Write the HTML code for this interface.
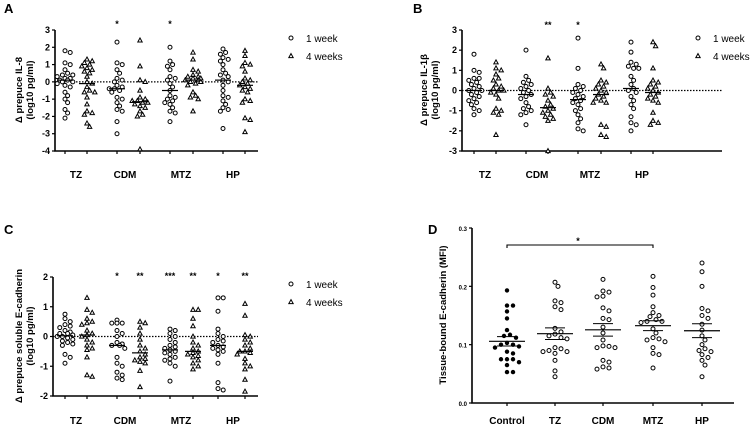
<!DOCTYPE html>
<html><head><meta charset="utf-8">
<style>
html,body{margin:0;padding:0;background:#fff;}
svg{display:block;font-family:"Liberation Sans",Arial,sans-serif;}
</style></head>
<body>
<svg id="fig" width="750" height="425" viewBox="0 0 750 425" xmlns="http://www.w3.org/2000/svg"></svg>
<script>
// ---------- DATA ----------
const groupsABC = ["TZ","CDM","MTZ","HP"];
const ticksA = [3,2,1,0,-1,-2,-3,-4];
const ticksB = [3,2,1,0,-1,-2,-3];
const ticksC = [2,1,0,-1,-2];
const ticksD = [0.3,0.2,0.1,0.0];
const tickLabelsD = ["0.3","0.2","0.1","0.0"];
const groupsD = ["Control","TZ","CDM","MTZ","HP"];

const a_tz1=[1.8,1.7,1.1,1.0,0.7,0.5,0.4,0.4,0.3,0.2,0.2,0.1,0.1,0,0,-0.1,-0.2,-0.3,-0.6,-0.8,-1.0,-1.2,-1.6,-1.8,-2.1];
const a_tz4=[1.3,1.2,1.1,1.0,0.9,0.8,0.7,0.6,0.5,0.3,0,-0.1,-0.3,-0.5,-0.6,-0.6,-0.9,-1.3,-1.7,-1.8,-1.9,-2.4,-2.6];
const a_cdm1=[2.3,1.1,1.0,0.7,0.5,0.2,0.1,0,-0.2,-0.3,-0.4,-0.4,-0.5,-0.6,-0.9,-1.0,-1.2,-1.4,-1.6,-1.7,-2.3,-3.0];
const a_cdm4=[2.4,0.9,0.1,0,-0.5,-0.9,-1.0,-1.1,-1.1,-1.2,-1.2,-1.3,-1.4,-1.5,-1.7,-1.9,-2.0,-3.9];
const a_mtz1=[2.0,1.2,1.0,0.9,0.7,0.3,0.2,0.1,-0.1,-0.3,-0.5,-0.8,-0.9,-1.0,-1.1,-1.2,-1.3,-1.5,-1.7,-1.8,-2.3];
const a_mtz4=[1.7,1.3,0.7,0.6,0.4,0.3,0.3,0.2,0.2,0.1,0.1,0,0,-0.1,-0.2,-0.6,-0.8,-0.9,-1.0,-1.7];
const a_hp1=[1.9,1.7,1.6,1.4,1.3,1.2,1.0,0.7,0.5,0.4,0.3,0.1,0,-0.2,-0.5,-0.8,-0.9,-1.1,-1.3,-1.5,-1.6,-1.7,-2.7];
const a_hp4=[1.8,1.5,1.1,1.0,0.9,0.6,0.2,0.1,0,-0.1,-0.2,-0.3,-0.4,-0.5,-0.6,-1.0,-1.1,-1.2,-2.1,-2.2,-2.9];

const b_tz1=[1.8,1.0,0.9,0.6,0.6,0.5,0.4,0.3,0.2,0.1,0,0,-0.1,-0.2,-0.3,-0.4,-0.5,-0.6,-0.7,-0.9,-1.0,-1.2];
const b_tz4=[1.4,1.1,1.0,0.8,0.6,0.5,0.3,0.2,0.1,0,0,-0.1,-0.2,-0.4,-0.9,-1.0,-1.1,-1.2,-2.2];
const b_cdm1=[2.0,0.7,0.5,0.4,0.3,0.2,0.1,0,-0.1,-0.2,-0.3,-0.4,-0.6,-0.8,-0.9,-1.0,-1.1,-1.2,-1.7];
const b_cdm4=[1.6,0.1,-0.1,-0.2,-0.3,-0.5,-0.7,-0.8,-0.9,-1.0,-1.1,-1.2,-1.3,-1.4,-1.5,-3.0];
const b_mtz1=[2.6,1.1,0.3,0.2,0.1,0,-0.1,-0.2,-0.3,-0.4,-0.5,-0.6,-0.7,-0.9,-1.0,-1.2,-1.4,-1.6,-1.9,-2.0];
const b_mtz4=[1.3,1.1,0.5,0.4,0.3,0.2,0.1,0,-0.1,-0.2,-0.3,-0.4,-0.5,-0.6,-0.6,-1.7,-1.8,-2.2,-2.3];
const b_hp1=[2.4,1.9,1.4,1.3,1.2,1.1,1.1,0.7,0.5,0.3,0.1,0,-0.1,-0.3,-0.5,-0.7,-0.9,-1.3,-1.6,-1.7,-2.0];
const b_hp4=[2.4,2.2,1.1,0.5,0.4,0.3,0.2,0.1,0,-0.1,-0.2,-0.3,-0.4,-0.5,-0.6,-1.1,-1.5,-1.6,-1.7];

const c_tz1=[0.75,0.6,0.5,0.4,0.35,0.3,0.2,0.15,0.1,0.1,0.05,0,0,-0.05,-0.1,-0.15,-0.2,-0.25,-0.3,-0.6,-0.7,-0.9];
const c_tz4=[1.3,0.9,0.8,0.6,0.5,0.45,0.4,0.2,0.1,0.05,0,-0.1,-0.2,-0.3,-0.4,-0.45,-0.7,-1.3,-1.35];
const c_cdm1=[0.55,0.45,0.45,0.45,0.2,0.1,0,-0.2,-0.25,-0.3,-0.3,-0.4,-0.7,-0.9,-1.0,-1.2,-1.3,-1.4,-1.45];
const c_cdm4=[0.5,0.45,0.3,0.1,-0.1,-0.3,-0.4,-0.5,-0.6,-0.7,-0.75,-0.8,-0.85,-0.9,-1.15,-1.7];
const c_mtz1=[0.25,0.2,0.1,0,-0.1,-0.2,-0.3,-0.35,-0.4,-0.45,-0.5,-0.55,-0.6,-0.7,-0.75,-0.8,-0.9,-1.0,-1.5];
const c_mtz4=[0.9,0.9,0.6,0.35,0,-0.2,-0.3,-0.4,-0.5,-0.55,-0.6,-0.65,-0.7,-0.8,-0.9,-1.0,-1.1];
const c_hp1=[1.3,1.3,0.85,0.25,0.1,0,-0.1,-0.15,-0.2,-0.3,-0.35,-0.4,-0.45,-0.5,-0.6,-0.9,-1.55,-1.75,-1.8];
const c_hp4=[1.1,0.7,0.05,0,-0.1,-0.2,-0.3,-0.4,-0.5,-0.5,-0.55,-0.6,-0.75,-0.9,-1.0,-1.1,-1.45,-1.85];

const d_control=[0.193,0.167,0.167,0.157,0.145,0.125,0.117,0.115,0.112,0.103,0.100,0.100,0.097,0.095,0.088,0.085,0.075,0.075,0.075,0.070,0.065,0.053,0.053];
const d_tz=[0.207,0.200,0.175,0.172,0.165,0.160,0.128,0.122,0.118,0.115,0.112,0.110,0.095,0.093,0.090,0.088,0.088,0.085,0.073,0.055,0.045];
const d_cdm=[0.212,0.192,0.190,0.183,0.182,0.163,0.158,0.145,0.143,0.130,0.120,0.108,0.098,0.097,0.095,0.095,0.073,0.070,0.062,0.060,0.058];
const d_mtz=[0.217,0.198,0.185,0.165,0.155,0.150,0.148,0.143,0.140,0.140,0.138,0.127,0.120,0.112,0.110,0.108,0.105,0.095,0.085,0.083,0.060];
const d_hp=[0.240,0.225,0.200,0.162,0.158,0.150,0.145,0.135,0.125,0.115,0.108,0.100,0.093,0.090,0.088,0.083,0.078,0.073,0.065,0.045];

const starsA=["","","*","","*","","",""];
const starsB=["","","","**","*","","",""];
const starsC=["","","*","**","***","**","*","**"];

// ---------- DRAW ----------
const NS="http://www.w3.org/2000/svg";
const svg=document.getElementById('fig');
function el(tag,attrs,parent,text){const e=document.createElementNS(NS,tag);for(const k in attrs)e.setAttribute(k,attrs[k]);if(text!==undefined)e.textContent=text;(parent||svg).appendChild(e);return e;}
function median(a){const s=[...a].sort((x,y)=>x-y);const n=s.length;return n%2?s[(n-1)/2]:(s[n/2-1]+s[n/2])/2;}
function mean(a){return a.reduce((p,c)=>p+c,0)/a.length;}
function sem(a){const m=mean(a);return Math.sqrt(a.reduce((p,c)=>p+(c-m)*(c-m),0)/(a.length-1))/Math.sqrt(a.length);}
function swarm(vals,yf,cx,step,maxOff,minD){
  const placed=[];const out=[];
  const idx=vals.map((v,i)=>i).sort((i,j)=>vals[j]-vals[i]);
  for(const i of idx){const y=yf(vals[i]);let best=cx,bestScore=-1;
    const nMax=Math.floor(maxOff/step);
    for(let k=0;k<=2*nMax;k++){const off=(k%2?1:-1)*Math.ceil(k/2)*step;const x=cx+off;
      const d=placed.length?Math.min(...placed.map(p=>Math.hypot(p[0]-x,p[1]-y))):99;
      if(d>=minD){best=x;bestScore=99;break;}
      if(d>bestScore){bestScore=d;best=x;}}
    placed.push([best,y]);out.push([best,y]);}
  return out;
}
function marker(g,type,x,y){
  let e;
  if(type==='circle'){e=el('circle',{cx:x,cy:y,r:2,fill:'#fff',stroke:'#000','stroke-width':1},g);}
  else if(type==='dot'){e=el('circle',{cx:x,cy:y,r:2.2,fill:'#000'},g);}
  else {e=el('path',{d:`M${x} ${y-2.4}L${x+2.2} ${y+1.6}L${x-2.2} ${y+1.6}Z`,fill:'#fff',stroke:'#000','stroke-width':1},g);}
  
}
function panel(o){
  const g=el('g',{});
  const y=v=>o.y0+(o.ymax-v)/(o.ymax-o.ymin)*(o.y1-o.y0);
  const t=el('text',{x:o.lx,y:o.ly,'font-size':13,'font-weight':'bold'},g,o.letter);
  const yl=el('text',{transform:`translate(${o.ylx},${o.yly}) rotate(-90)`,'font-size':9.5,'font-weight':'bold','text-anchor':'middle'},g);
  
  o.ylabel.forEach((s,i)=>{el('tspan',{x:0,dy:i?11:0},yl,s);});
  const ax=el('path',{d:`M${o.ax} ${o.y0}V${o.y1}H${o.ax2}`,stroke:'#000','stroke-width':1.6,fill:'none'},g);
  o.ticks.forEach((v,i)=>{el('line',{x1:o.ax-3,x2:o.ax,y1:y(v),y2:y(v),stroke:'#000','stroke-width':1.2},g);
    const tl=el('text',{x:o.ax-5,y:y(v)+3,'font-size':o.tfs,'font-weight':'bold','text-anchor':'end'},g,o.tickLabels?o.tickLabels[i]:String(v));
    });
  if(o.zero){const z=el('line',{x1:o.ax,x2:o.ax2,y1:y(0),y2:y(0),stroke:'#000','stroke-width':1.2,'stroke-dasharray':'1.5,1.5'},g);}
  o.series.forEach((s,i)=>{
    const cx=o.xs[i];
    el('line',{x1:cx,x2:cx,y1:o.y1,y2:o.y1+3,stroke:'#000','stroke-width':1.2},g);
    swarm(s,y,cx,o.step,o.maxOff,o.minD).forEach(p=>marker(g,o.types[i],p[0],p[1]));
    if(o.meanSem){const m=mean(s),e=sem(s);
      el('line',{x1:cx-18,x2:cx+18,y1:y(m),y2:y(m),stroke:'#000','stroke-width':1.2},g);
      el('line',{x1:cx-10,x2:cx+10,y1:y(m+e),y2:y(m+e),stroke:'#000','stroke-width':1},g);
      el('line',{x1:cx-10,x2:cx+10,y1:y(m-e),y2:y(m-e),stroke:'#000','stroke-width':1},g);
    } else {const m=median(s);const ml=el('line',{x1:cx-8,x2:cx+8,y1:y(m),y2:y(m),stroke:'#000','stroke-width':1.2},g);}
    if(o.stars&&o.stars[i]){const st=el('text',{x:cx,y:o.starY,'font-size':9,'font-weight':'bold','text-anchor':'middle'},g,o.stars[i]);}
  });
  o.cats.forEach((c,i)=>{const cl=el('text',{x:o.catX[i],y:o.catY,'font-size':10,'font-weight':'bold','text-anchor':'middle'},g,c);});
  if(o.legend){const lg=el('g',{},g);
    marker(lg,'circle',o.legend[0],o.legend[1]);
    el('text',{x:o.legend[0]+15,y:o.legend[1]+4,'font-size':10},lg,'1 week');
    marker(lg,'tri',o.legend[0],o.legend[1]+18);
    el('text',{x:o.legend[0]+15,y:o.legend[1]+22,'font-size':10},lg,'4 weeks');}
  return {g,y};
}
const typesABC=['circle','tri','circle','tri','circle','tri','circle','tri'];
const sw={step:2.6,maxOff:8,minD:4.2};
panel(Object.assign({name:'panel-a-il8',letter:'A',lx:4,ly:13,ylx:22,yly:90,ylabel:['Δ prepuce IL-8','(log10 pg/ml)'],
  ax:55,ax2:258,y0:30,y1:151,ymax:3,ymin:-4,ticks:ticksA,tfs:9,zero:true,
  xs:[65,87,117,140,170,193,223,245],series:[a_tz1,a_tz4,a_cdm1,a_cdm4,a_mtz1,a_mtz4,a_hp1,a_hp4],types:typesABC,
  stars:starsA,starY:27,cats:groupsABC,catX:[76,125,181,233],catY:178,legend:[291,38]},sw));
panel(Object.assign({name:'panel-b-il1b',letter:'B',lx:413,ly:13,ylx:427,yly:90,ylabel:['Δ prepuce IL-1β','(log10 pg/ml)'],
  ax:462,ax2:722,y0:30,y1:151,ymax:3,ymin:-3,ticks:ticksB,tfs:9,zero:true,
  xs:[474,496,526,548,578,601,631,653],series:[b_tz1,b_tz4,b_cdm1,b_cdm4,b_mtz1,b_mtz4,b_hp1,b_hp4],types:typesABC,
  stars:starsB,starY:28,cats:groupsABC,catX:[485,537,590,642],catY:178,legend:[698,38]},sw));
panel(Object.assign({name:'panel-c-ecadherin',letter:'C',lx:4,ly:234,ylx:22,yly:336,ylabel:['Δ prepuce soluble E-cadherin','(log10 pg/ml)'],
  ax:53,ax2:258,y0:277,y1:396,ymax:2,ymin:-2,ticks:ticksC,tfs:9,zero:true,
  xs:[65,87,117,140,170,193,218,245],series:[c_tz1,c_tz4,c_cdm1,c_cdm4,c_mtz1,c_mtz4,c_hp1,c_hp4],types:typesABC,
  stars:starsC,starY:279,cats:groupsABC,catX:[76,125,181,233],catY:424,legend:[291,284]},sw));
const pd=panel({name:'panel-d-tissue-ecadherin',letter:'D',lx:428,ly:234,ylx:446,yly:315,ylabel:['Tissue-bound E-cadherin (MFI)'],
  ax:472,ax2:734,y0:228,y1:403,ymax:0.3,ymin:0,ticks:ticksD,tickLabels:tickLabelsD,tfs:6,zero:false,meanSem:true,
  step:3,maxOff:14,minD:4.8,
  xs:[507,555,603,653,702],series:[d_control,d_tz,d_cdm,d_mtz,d_hp],types:['dot','circle','circle','circle','circle'],
  cats:groupsD,catX:[507,555,603,653,702],catY:424});
const br=el('path',{d:'M507 248V245H653V248',stroke:'#000','stroke-width':1.1,fill:'none'},pd.g);


const bs=el('text',{x:578,y:244,'font-size':9,'font-weight':'bold','text-anchor':'middle'},pd.g,'*');


</script>
</body></html>
